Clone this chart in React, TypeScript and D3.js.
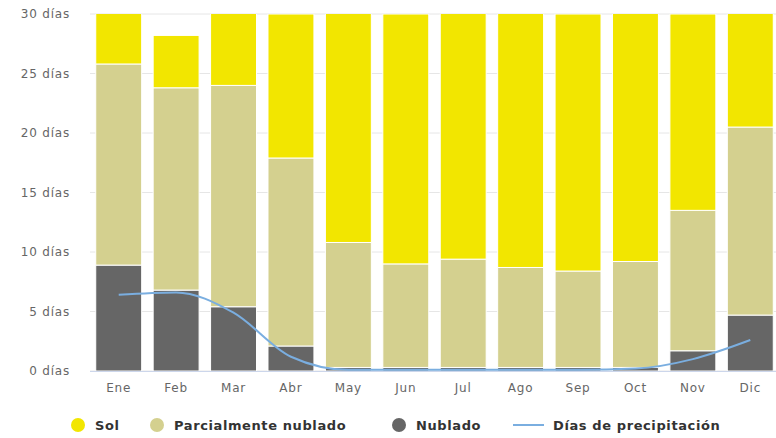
import * as d3 from "d3";
import React from "react";

const months = ["Ene", "Feb", "Mar", "Abr", "May", "Jun", "Jul", "Ago", "Sep", "Oct", "Nov", "Dic"];
const nublado = [8.9, 6.8, 5.4, 2.1, 0.3, 0.3, 0.3, 0.3, 0.3, 0.3, 1.7, 4.7];
const parcial = [16.9, 17.0, 18.6, 15.8, 10.5, 8.7, 9.1, 8.4, 8.1, 8.9, 11.8, 15.8];
const sol = [5.2, 4.4, 7.0, 12.1, 20.2, 21.0, 21.6, 22.3, 21.6, 21.8, 16.5, 10.5];
const precip = [6.4, 6.6, 4.9, 1.2, 0.1, 0.1, 0.1, 0.1, 0.1, 0.2, 1.0, 2.6];
const yTicks = [0, 5, 10, 15, 20, 25, 30];

const W = 776;
const H = 438;
const margin = { left: 90, right: -3, top: 14, bottom: 67 };
const COLORS = { sol: "#f2e600", parcial: "#d4d08f", nublado: "#666666", precip: "#7aaee0" };
const FONT = "'DejaVu Sans', Verdana, sans-serif";

export default function App() {
  const x = d3
    .scaleBand<string>()
    .domain(months)
    .range([margin.left, W - margin.right])
    .paddingInner(0.2)
    .paddingOuter(0.1);
  const y = d3.scaleLinear().domain([0, 30]).range([H - margin.bottom, margin.top]);

  const rows = months.map((m, i) => ({ m, nublado: nublado[i], parcial: parcial[i], sol: sol[i] }));
  const stack = d3.stack<any>().keys(["nublado", "parcial", "sol"])(rows);

  const line = d3
    .line<number>()
    .x((d, i) => (x(months[i]) as number) + x.bandwidth() / 2)
    .y((d) => y(d))
    .curve(d3.curveMonotoneX);

  // legend items, x = marker centre (or line start)
  const legend = [
    { label: "Sol", color: COLORS.sol, x: 78, type: "dot" },
    { label: "Parcialmente nublado", color: COLORS.parcial, x: 157, type: "dot" },
    { label: "Nublado", color: COLORS.nublado, x: 399, type: "dot" },
    { label: "Días de precipitación", color: COLORS.precip, x: 513, type: "line" },
  ];
  const LY = 425;

  return (
    <div style={{ position: "absolute", left: 0, top: 0 }}>
      <svg width={W} height={H} style={{ display: "block", background: "#fff" }}>
        <defs>
          <clipPath id="plot">
            <rect x={0} y={margin.top} width={W} height={H - margin.bottom - margin.top + 1} />
          </clipPath>
        </defs>
        {yTicks.map((t) => (
          <g key={t}>
            <line x1={margin.left} x2={W} y1={y(t)} y2={y(t)} stroke="#e6e6e6" />
            <text
              x={70}
              y={y(t)}
              dy="0.35em"
              textAnchor="end"
              fontFamily={FONT}
              fontSize={12}
              letterSpacing={0.8}
              fill="#666"
            >
              {t} días
            </text>
          </g>
        ))}
        <g clipPath="url(#plot)">
          {stack.map((layer) => (
            <g key={layer.key} fill={(COLORS as any)[layer.key]}>
              {layer.map((d, i) => (
                <rect
                  key={i}
                  x={x(months[i])}
                  y={y(d[1])}
                  width={x.bandwidth()}
                  height={Math.max(0, y(d[0]) - y(d[1]))}
                  stroke="#fff"
                  strokeWidth={1}
                />
              ))}
            </g>
          ))}
        </g>
        <line x1={margin.left} x2={W} y1={y(0) + 0.5} y2={y(0) + 0.5} stroke="#ccd6eb" />
        <path d={line(precip) || ""} fill="none" stroke={COLORS.precip} strokeWidth={2} />
        {months.map((m) => (
          <text
            key={m}
            x={(x(m) as number) + x.bandwidth() / 2}
            y={392}
            textAnchor="middle"
            fontFamily={FONT}
            fontSize={12}
            letterSpacing={0.8}
            fill="#666"
          >
            {m}
          </text>
        ))}
        <g fontFamily={FONT} fontSize={13} fontWeight="bold" letterSpacing={0.6} fill="#333">
          {legend.map((l) =>
            l.type === "dot" ? (
              <g key={l.label}>
                <circle cx={l.x} cy={LY} r={7} fill={l.color} />
                <text x={l.x + 17} y={LY} dy="0.35em">{l.label}</text>
              </g>
            ) : (
              <g key={l.label}>
                <line x1={l.x} x2={l.x + 31} y1={LY} y2={LY} stroke={l.color} strokeWidth={2} />
                <text x={l.x + 40} y={LY} dy="0.35em">{l.label}</text>
              </g>
            )
          )}
        </g>
      </svg>
    </div>
  );
}
